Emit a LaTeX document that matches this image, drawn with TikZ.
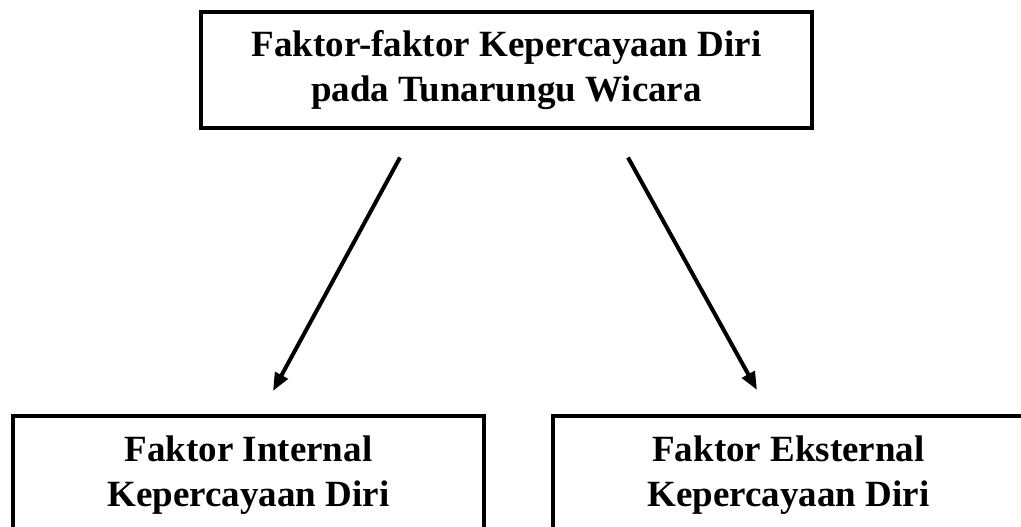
\documentclass[tikz,border=0pt]{standalone}
\usepackage{fontspec}
\setmainfont{Liberation Serif}
\usepackage{tikz}
\usetikzlibrary{arrows.meta,positioning,calc}

\begin{document}
\begin{tikzpicture}[x=1pt,y=-1pt,
    faktorbox/.style={draw, line width=4pt, align=center, inner sep=0pt,
        font=\bfseries\fontsize{37}{45}\selectfont},
    panah/.style={line width=4pt, -{Triangle[length=18pt,width=14pt]}}]
    \useasboundingbox (0,0) rectangle (1021,527);

    \node[faktorbox, minimum width=611pt, minimum height=115pt] (induk) at (506.5,70)
        {Faktor-faktor Kepercayaan Diri\\pada Tunarungu Wicara};

    \node[faktorbox, minimum width=471pt, minimum height=118pt] (internal) at (248.5,475)
        {Faktor Internal\\Kepercayaan Diri};
    \node[faktorbox, minimum width=471pt, minimum height=118pt] (eksternal) at (788.5,475)
        {Faktor Eksternal\\Kepercayaan Diri};

    \draw[panah] ([xshift=-106.5pt,yshift=-28pt]induk.south) -- ([xshift=24.5pt,yshift=23pt]internal.north);
    \draw[panah] ([xshift=121.5pt,yshift=-28pt]induk.south) -- ([xshift=-31.5pt,yshift=24pt]eksternal.north);
\end{tikzpicture}
\end{document}
